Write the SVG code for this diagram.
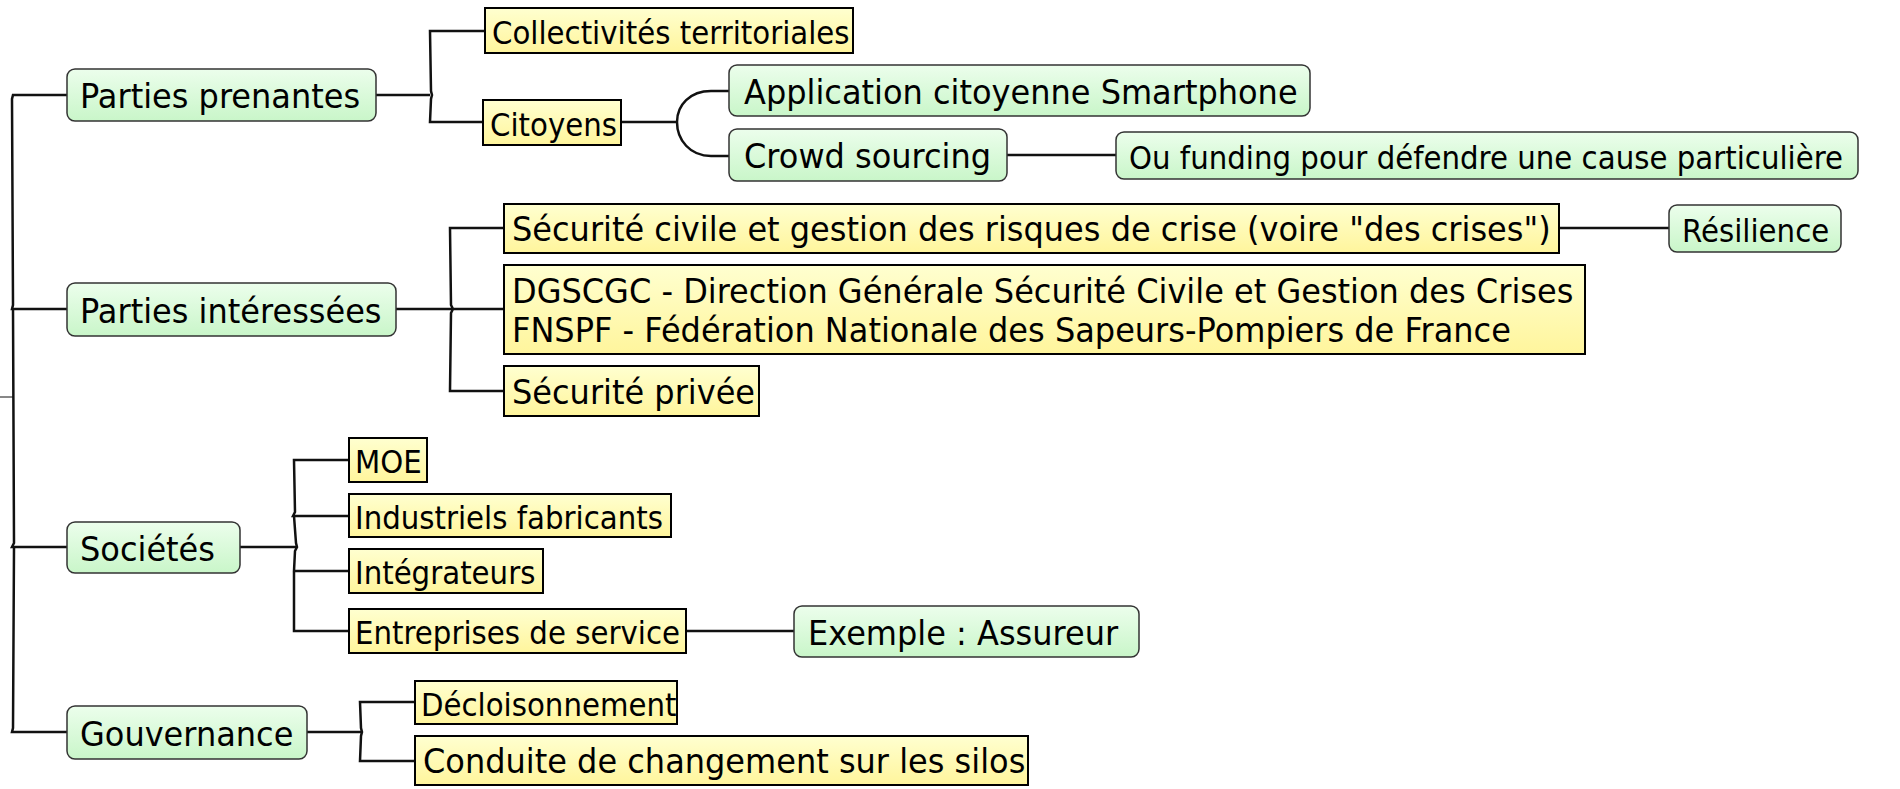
<svg xmlns="http://www.w3.org/2000/svg" width="1900" height="789" viewBox="0 0 1900 789">
<defs>
<linearGradient id="gG" x1="0" y1="0" x2="0" y2="1"><stop offset="0" stop-color="#ecfeec"/><stop offset="1" stop-color="#c9f6c9"/></linearGradient>
<linearGradient id="gY" x1="0" y1="0" x2="0" y2="1"><stop offset="0" stop-color="#ffffd0"/><stop offset="1" stop-color="#fff59c"/></linearGradient>
</defs>
<style>
.g{fill:url(#gG);stroke:#333;stroke-width:1.5}
.y{fill:url(#gY);stroke:#000;stroke-width:2}
.t{font-family:"DejaVu Sans",Verdana,sans-serif;fill:#000;transform:scaleX(0.928)}
.b{font-size:34.5px}
.s{font-size:31.3px;transform:scaleX(0.935)}
.c{fill:none;stroke:#111;stroke-width:2.5}
.k{fill:none;stroke:#111;stroke-width:1}
</style>
<rect width="1900" height="789" fill="#fff"/>
<g id="connectors">
<path class="c" d="M67,95 H13 L12,99 L13,305 L12,309 H67 M13,309 L14,543 L12,547 H67 M14,547 L13,728 L12,732 H67"/>
<path class="k" d="M0,397 H13"/>
<path class="c" d="M376,95 H430 M485,31 H430 L431,91 L432,95 L431,99 L430,122 H483"/>
<path class="c" d="M621,122 H677 M729,91 H711 C690,91 677,105 677,122 C677,140 690,156 711,156 H729"/>
<path class="c" d="M1007,155 H1116"/>
<path class="c" d="M396,309 H451 M504,228 H450 L451,305 L453,309 L451,313 L450,391 H504 M451,309 H504"/>
<path class="c" d="M1559,228 H1669"/>
<path class="c" d="M240,547 H296 M349,460 H294 L295,512 L293,516 H349 M294,516 L296,543 L297,547 L295,551 L294,571 H349 M294,571 L294,631 H349"/>
<path class="c" d="M686,631 H794"/>
<path class="c" d="M307,732 H361 M415,702 H360 L361,728 L362,732 L361,736 L360,761 H415"/>
</g>
<g id="n-parties-prenantes"><rect class="g" x="67" y="69" width="309" height="52" rx="8"/><g transform="translate(80,108)"><text class="t b">Parties prenantes</text></g></g>
<g id="n-collectivites"><rect class="y" x="485" y="8" width="368" height="45"/><g transform="translate(492,43.5)"><text class="t s">Collectivités territoriales</text></g></g>
<g id="n-citoyens"><rect class="y" x="483" y="100" width="138" height="45"/><g transform="translate(490,135.5)"><text class="t s">Citoyens</text></g></g>
<g id="n-application"><rect class="g" x="729" y="65" width="581" height="51" rx="8"/><g transform="translate(744,103.5)"><text class="t b">Application citoyenne Smartphone</text></g></g>
<g id="n-crowd"><rect class="g" x="729" y="129" width="278" height="52" rx="8"/><g transform="translate(744,168)"><text class="t b">Crowd sourcing</text></g></g>
<g id="n-funding"><rect class="g" x="1116" y="132" width="742" height="47" rx="8"/><g transform="translate(1129,168.5)"><text class="t s">Ou funding pour défendre une cause particulière</text></g></g>
<g id="n-parties-interessees"><rect class="g" x="67" y="283" width="329" height="53" rx="8"/><g transform="translate(80,322.5)"><text class="t b">Parties intéressées</text></g></g>
<g id="n-securite-civile"><rect class="y" x="504" y="204" width="1055" height="49"/><g transform="translate(512,241)"><text class="t b">Sécurité civile et gestion des risques de crise (voire "des crises")</text></g></g>
<g id="n-resilience"><rect class="g" x="1669" y="205" width="172" height="47" rx="8"/><g transform="translate(1682,241.5)"><text class="t s">Résilience</text></g></g>
<g id="n-dgscgc"><rect class="y" x="504" y="265" width="1081" height="89"/><g transform="translate(512,303)"><text class="t b">DGSCGC - Direction Générale Sécurité Civile et Gestion des Crises</text></g><g transform="translate(512,342)"><text class="t b">FNSPF - Fédération Nationale des Sapeurs-Pompiers de France</text></g></g>
<g id="n-securite-privee"><rect class="y" x="504" y="366" width="255" height="50"/><g transform="translate(512,404)"><text class="t b">Sécurité privée</text></g></g>
<g id="n-societes"><rect class="g" x="67" y="522" width="173" height="51" rx="8"/><g transform="translate(80,560.5)"><text class="t b">Sociétés</text></g></g>
<g id="n-moe"><rect class="y" x="349" y="438" width="78" height="44"/><g transform="translate(355,473)"><text class="t s">MOE</text></g></g>
<g id="n-industriels"><rect class="y" x="349" y="494" width="322" height="43"/><g transform="translate(355,528.5)"><text class="t s">Industriels fabricants</text></g></g>
<g id="n-integrateurs"><rect class="y" x="349" y="549" width="194" height="44"/><g transform="translate(355,584)"><text class="t s">Intégrateurs</text></g></g>
<g id="n-entreprises"><rect class="y" x="349" y="609" width="337" height="44"/><g transform="translate(355,644)"><text class="t s">Entreprises de service</text></g></g>
<g id="n-exemple"><rect class="g" x="794" y="606" width="345" height="51" rx="8"/><g transform="translate(808,644.5)"><text class="t b">Exemple : Assureur</text></g></g>
<g id="n-gouvernance"><rect class="g" x="67" y="706" width="240" height="53" rx="8"/><g transform="translate(80,745.5)"><text class="t b">Gouvernance</text></g></g>
<g id="n-decloisonnement"><rect class="y" x="415" y="681" width="262" height="43"/><g transform="translate(421,715.5)"><text class="t s">Décloisonnement</text></g></g>
<g id="n-conduite"><rect class="y" x="415" y="736" width="613" height="49"/><g transform="translate(423,773)"><text class="t b">Conduite de changement sur les silos</text></g></g>
</svg>
